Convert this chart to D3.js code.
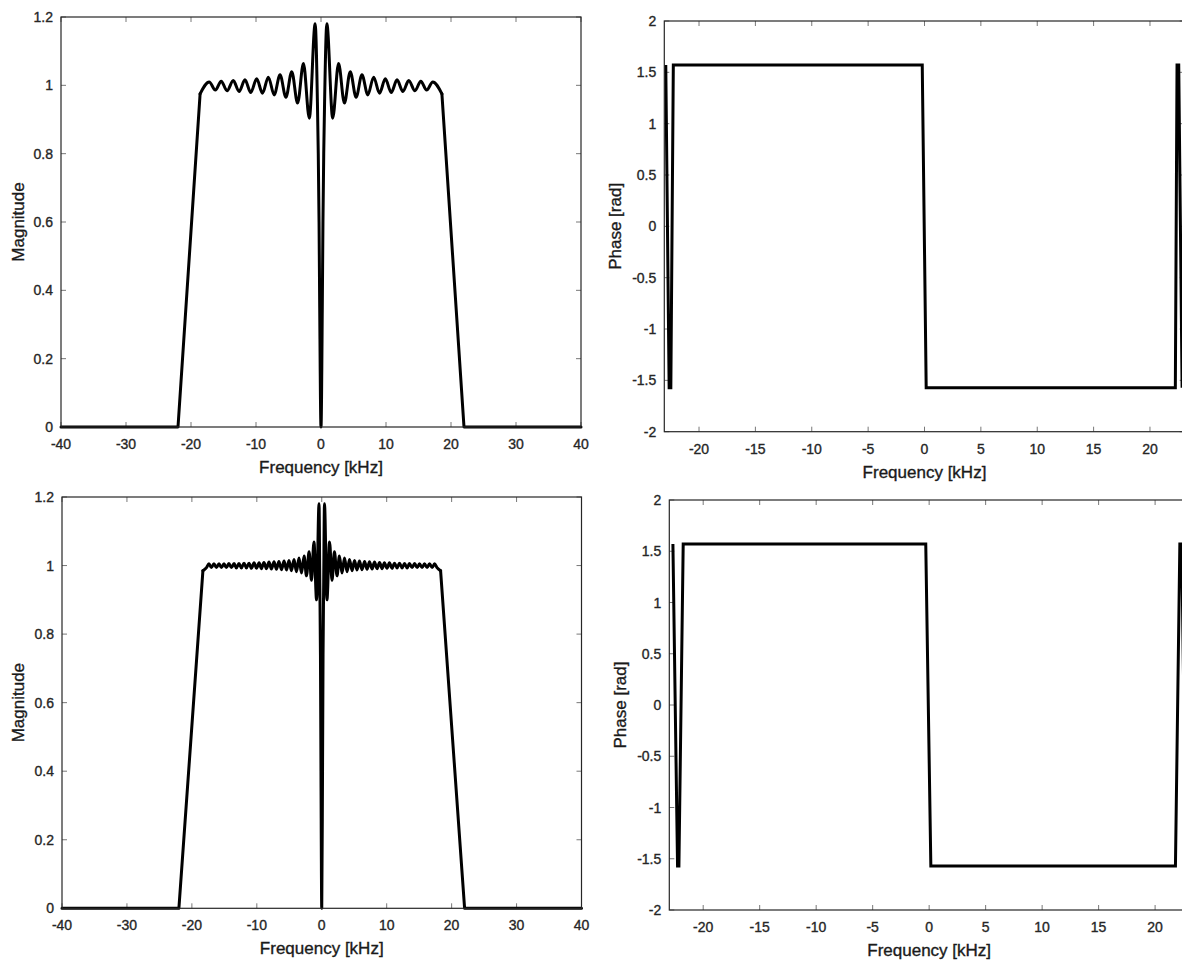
<!DOCTYPE html>
<html>
<head>
<meta charset="utf-8">
<script src="https://cdn.jsdelivr.net/npm/d3@7"></script>
<style>
  body { margin: 0; background: #fff; }
  svg { display: block; font-family: "Liberation Sans", Arial, sans-serif; }
  .tick-label { font-size: 14px; fill: #262626; stroke: #262626; stroke-width: 0.35px; }
  .axis-title { font-size: 17px; fill: #1a1a1a; stroke: #1a1a1a; stroke-width: 0.35px; }
</style>
</head>
<body>
<svg id="chart"></svg>
<script>
// Data
const magTicksX = [-40, -30, -20, -10, 0, 10, 20, 30, 40];
const magTicksY = [0, 0.2, 0.4, 0.6, 0.8, 1, 1.2];
const phaseTicksX = [-20, -15, -10, -5, 0, 5, 10, 15, 20];
const phaseTicksY = [-2, -1.5, -1, -0.5, 0, 0.5, 1, 1.5, 2];

// top-left magnitude
const magTopFreq = [
  -40, -22.0, -18.6, -17.2, -16.25, -15.35, -14.45, -13.5, -12.6, -11.7, -10.8,
  -9.9, -9.0, -8.1, -7.2, -6.3, -5.4, -4.5, -3.6, -2.7, -1.8, -0.9,
  -0.55, -0.42, -0.3, -0.2, 0, 0.2, 0.3, 0.42, 0.55,
  0.9, 1.8, 2.7, 3.6, 4.5, 5.4, 6.3, 7.2, 8.1, 9.0, 9.9,
  10.8, 11.7, 12.6, 13.5, 14.45, 15.35, 16.25, 17.2, 18.6, 22.0, 40
];
const magTopVal = [
  0, 0, 0.975, 1.010, 0.986, 1.012, 0.984, 1.014, 0.982, 1.016, 0.979,
  1.019, 0.977, 1.024, 0.972, 1.031, 0.965, 1.040, 0.948, 1.064, 0.904, 1.180,
  0.95, 0.80, 0.60, 0.35, 0, 0.35, 0.60, 0.80, 0.95,
  1.180, 0.904, 1.064, 0.948, 1.040, 0.965, 1.031, 0.972, 1.024, 0.977, 1.019,
  0.979, 1.016, 0.982, 1.014, 0.984, 1.012, 0.986, 1.010, 0.975, 0, 0
];

// bottom-left magnitude
const magBotFreq = [
  -40, -22.0, -18.3, -17.75, -17.37, -17.0, -16.6, -16.22, -15.82, -15.45,
  -15.05, -14.7, -14.3, -13.92, -13.5, -13.15, -12.75, -12.37, -11.97, -11.6,
  -11.2, -10.83, -10.42, -10.05, -9.65, -9.3, -8.9, -8.52, -8.12, -7.75,
  -7.35, -6.98, -6.6, -6.2, -5.8, -5.43, -5.05, -4.67, -4.27, -3.9,
  -3.5, -3.12, -2.72, -2.35, -1.95, -1.58, -1.2, -0.8, -0.42,
  -0.3, -0.2, -0.12, 0, 0.12, 0.2, 0.3,
  0.42, 0.8, 1.2, 1.58, 1.95, 2.35, 2.72, 3.12, 3.5,
  3.9, 4.27, 4.67, 5.05, 5.43, 5.8, 6.2, 6.6, 6.98, 7.35,
  7.75, 8.12, 8.52, 8.9, 9.3, 9.65, 10.05, 10.42, 10.83, 11.2,
  11.6, 11.97, 12.37, 12.75, 13.15, 13.5, 13.92, 14.3, 14.7, 15.05,
  15.45, 15.82, 16.22, 16.6, 17.0, 17.37, 17.75, 18.3, 22.0, 40
];
const magBotVal = [
  0, 0, 0.985, 0.994, 1.005, 0.994, 1.005, 0.994, 1.005, 0.994,
  1.005, 0.994, 1.006, 0.994, 1.006, 0.993, 1.006, 0.993, 1.007, 0.993,
  1.007, 0.992, 1.008, 0.992, 1.008, 0.991, 1.009, 0.991, 1.010, 0.990,
  1.011, 0.989, 1.012, 0.988, 1.013, 0.987, 1.015, 0.985, 1.018, 0.982,
  1.022, 0.978, 1.028, 0.970, 1.040, 0.957, 1.069, 0.900, 1.180,
  0.95, 0.74, 0.40, 0, 0.40, 0.74, 0.95,
  1.180, 0.900, 1.069, 0.957, 1.040, 0.970, 1.028, 0.978, 1.022,
  0.982, 1.018, 0.985, 1.015, 0.987, 1.013, 0.988, 1.012, 0.989, 1.011,
  0.990, 1.010, 0.991, 1.009, 0.991, 1.008, 0.992, 1.008, 0.992, 1.007,
  0.993, 1.007, 0.993, 1.006, 0.993, 1.006, 0.994, 1.006, 0.994, 1.005,
  0.994, 1.005, 0.994, 1.005, 0.994, 1.005, 0.994, 0.985, 0, 0
];

// phase curves
const phaseTopFreq = [-22.95, -22.65, -22.5, -22.28, -0.2, 0.15, 22.25, 22.4, 22.55, 22.85];
const phaseTopVal = [1.5708, -1.5708, -1.5708, 1.5708, 1.5708, -1.5708, -1.5708, 1.5708, 1.5708, -1.5708];
const phaseBotFreq = [-22.68, -22.27, -22.15, -21.77, -0.3, 0.15, 21.8, 22.19, 22.35, 22.75];
const phaseBotVal = [1.5708, -1.5708, -1.5708, 1.5708, 1.5708, -1.5708, -1.5708, 1.5708, 1.5708, -1.5708];

// Chart Dimensions
const width = 1182;
const height = 961;

const svg = d3.select("#chart").attr("width", width).attr("height", height);

const fmt = (d) => String(+d.toFixed(2));

function drawPanel(p) {
  const x = d3.scaleLinear().domain(p.xDomain).range([p.left, p.right]);
  const y = d3.scaleLinear().domain(p.yDomain).range([p.bottom, p.top]);
  const g = svg.append("g");
  const tickLen = 5;

  // ticks (inside, all four sides)
  g.selectAll(".xt")
    .data(p.xTicks)
    .enter()
    .append("path")
    .attr("d", (d) =>
      `M${x(d)},${p.bottom}v${-tickLen}M${x(d)},${p.top}v${tickLen}`
    )
    .attr("stroke", "#555")
    .attr("stroke-width", 0.8);
  g.selectAll(".yt")
    .data(p.yTicks)
    .enter()
    .append("path")
    .attr("d", (d) =>
      `M${p.left},${y(d)}h${tickLen}M${p.right},${y(d)}h${-tickLen}`
    )
    .attr("stroke", "#555")
    .attr("stroke-width", 0.8);

  // tick labels
  g.selectAll(".xl")
    .data(p.xTicks)
    .enter()
    .append("text")
    .attr("class", "tick-label")
    .attr("x", (d) => x(d))
    .attr("y", p.bottom + 22)
    .attr("text-anchor", "middle")
    .text(fmt);
  g.selectAll(".yl")
    .data(p.yTicks)
    .enter()
    .append("text")
    .attr("class", "tick-label")
    .attr("x", p.left - 8)
    .attr("y", (d) => y(d) + 5)
    .attr("text-anchor", "end")
    .text(fmt);

  // axis titles
  g.append("text")
    .attr("class", "axis-title")
    .attr("x", (x(p.xDomain[0]) + x(p.xDomain[1])) / 2)
    .attr("y", p.bottom + 46)
    .attr("text-anchor", "middle")
    .text("Frequency [kHz]");
  g.append("text")
    .attr("class", "axis-title")
    .attr("transform", `translate(${p.yTitleX}, ${(p.top + p.bottom) / 2}) rotate(-90)`)
    .attr("text-anchor", "middle")
    .attr("dy", "0.35em")
    .text(p.yTitle);

  // curve
  const pts = p.freq.map((f, i) => [x(f), y(p.val[i])]);
  if (p.smooth) {
    const lin = d3.line();
    const mono = d3.line().curve(d3.curveMonotoneX);
    [lin(pts.slice(0, 3)), mono(pts.slice(2, -2)), lin(pts.slice(-3))].forEach((d) =>
      g.append("path")
        .attr("d", d)
        .attr("fill", "none")
        .attr("stroke", "#000")
        .attr("stroke-width", 3)
        .attr("stroke-linejoin", "round")
        .attr("stroke-linecap", "round")
    );
  } else {
    g.append("path")
      .attr("d", d3.line()(pts))
      .attr("fill", "none")
      .attr("stroke", "#000")
      .attr("stroke-width", 3)
      .attr("stroke-linejoin", "miter");
  }

  // box
  g.append("rect")
    .attr("x", p.left)
    .attr("y", p.top)
    .attr("width", p.right - p.left)
    .attr("height", p.bottom - p.top)
    .attr("fill", "none")
    .attr("stroke", "#262626")
    .attr("stroke-width", 1.2);
}

drawPanel({
  left: 61, right: 581, top: 17, bottom: 427,
  xDomain: [-40, 40], yDomain: [0, 1.2],
  xTicks: magTicksX, yTicks: magTicksY,
  yTitle: "Magnitude", yTitleX: 18,
  freq: magTopFreq, val: magTopVal, smooth: true
});
drawPanel({
  left: 664.3, right: 1184.7, top: 21, bottom: 431.7,
  xDomain: [-23.08, 23.08], yDomain: [-2, 2],
  xTicks: phaseTicksX, yTicks: phaseTicksY,
  yTitle: "Phase [rad]", yTitleX: 615,
  freq: phaseTopFreq, val: phaseTopVal, smooth: false
});
drawPanel({
  left: 62, right: 581.5, top: 497, bottom: 908.3,
  xDomain: [-40, 40], yDomain: [0, 1.2],
  xTicks: magTicksX, yTicks: magTicksY,
  yTitle: "Magnitude", yTitleX: 18,
  freq: magBotFreq, val: magBotVal, smooth: true
});
drawPanel({
  left: 669.3, right: 1189, top: 500, bottom: 910,
  xDomain: [-23.0, 23.0], yDomain: [-2, 2],
  xTicks: phaseTicksX, yTicks: phaseTicksY,
  yTitle: "Phase [rad]", yTitleX: 620,
  freq: phaseBotFreq, val: phaseBotVal, smooth: false
});
</script>
</body>
</html>
